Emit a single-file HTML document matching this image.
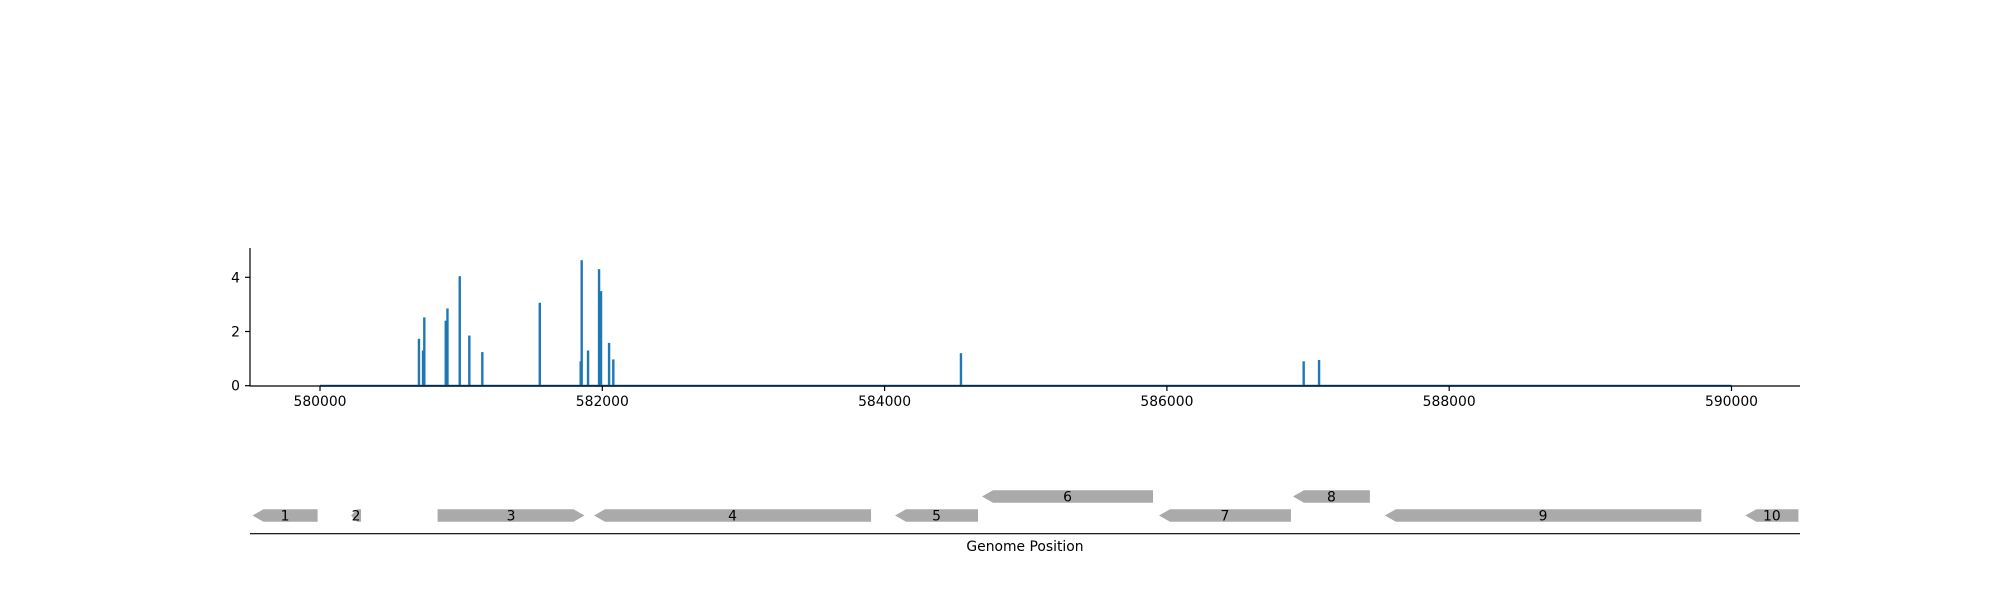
<!DOCTYPE html>
<html><head><meta charset="utf-8"><style>
html,body{margin:0;padding:0;background:#fff;width:2000px;height:600px;overflow:hidden}
svg{display:block;font-family:"DejaVu Sans","Liberation Sans",sans-serif}
</style></head><body>
<svg id="c" width="2000" height="600" viewBox="0 0 2000 600"></svg>
<script>
const positions=[580701,580730,580739,580891,580903,580990,581058,581150,581557,581847,581854,581899,581977,581991,582048,582078,584541,586969,587078];
const values=[1.73,1.3,2.52,2.40,2.85,4.04,1.85,1.24,3.06,0.9,4.63,1.3,4.3,3.49,1.58,0.97,1.2,0.9,0.95];
const xTicks=[580000,582000,584000,586000,588000,590000];
const yTicks=[0,2,4];
const geneLabels=["1","2","3","4","5","6","7","8","9","10"];
const geneStarts=[579522,580220,580833,581941,584074,584690,585944,586893,587544,590098];
const geneEnds=[579983,580291,581874,583904,584662,585902,586879,587438,589786,590474];
const geneStrands=[-1,-1,1,-1,-1,-1,-1,-1,-1,-1];
const geneRows=[0,0,0,0,0,1,0,1,0,0];

const NS="http://www.w3.org/2000/svg";
const svg=document.getElementById('c');
const X=v=>320+(v-580000)*0.14115;
const Y=v=>385.7-v*27.1;
function el(t,a,txt){const e=document.createElementNS(NS,t);for(const k in a)e.setAttribute(k,a[k]);if(txt!==undefined)e.textContent=txt;svg.appendChild(e);return e;}

let b=el('line',{x1:X(580000),x2:X(590000),y1:Y(0),y2:Y(0),stroke:'#1f77b4','stroke-width':2});


positions.forEach((p,i)=>{
  const r=el('rect',{x:X(p)-1.2,y:Y(values[i]),width:2.4,height:Y(0)-Y(values[i]),fill:'#1f77b4'});
  
  
});
let a=el('line',{x1:250,x2:250,y1:248,y2:386,stroke:'#000','stroke-width':1.2});


a=el('line',{x1:249.5,x2:1800,y1:386,y2:386,stroke:'#000','stroke-width':1.2});


yTicks.forEach(t=>{
  el('line',{x1:245,x2:250,y1:Y(t),y2:Y(t),stroke:'#000','stroke-width':1.2});
  const l=el('text',{x:240,y:Y(t)+5,'text-anchor':'end','font-size':13.9},String(t));
  
  
});
xTicks.forEach(t=>{
  el('line',{x1:X(t),x2:X(t),y1:386,y2:391,stroke:'#000','stroke-width':1.2});
  const l=el('text',{x:X(t),y:406,'text-anchor':'middle','font-size':13.9},String(t));
  
  
});
const rowY=[515.5,496.5],h=12.4,head=11;
geneLabels.forEach((g,i)=>{
  const x0=X(geneStarts[i]),x1=X(geneEnds[i]),cy=rowY[geneRows[i]];
  const hd=Math.min(head,(x1-x0)*0.6);
  let pts;
  if(geneStrands[i]>0) pts=[[x0,cy-h/2],[x1-hd,cy-h/2],[x1,cy],[x1-hd,cy+h/2],[x0,cy+h/2]];
  else pts=[[x0,cy],[x0+hd,cy-h/2],[x1,cy-h/2],[x1,cy+h/2],[x0+hd,cy+h/2]];
  const p=el('polygon',{points:pts.map(q=>q.join(',')).join(' '),fill:'#aaaaaa'});
  
  
  const t=el('text',{x:(x0+x1)/2,y:cy+5,'text-anchor':'middle','font-size':13.9},g);
  
  
});
a=el('line',{x1:250,x2:1800,y1:533.7,y2:533.7,stroke:'#000','stroke-width':1.2});


const xt=el('text',{x:1025,y:551,'text-anchor':'middle','font-size':13.9},'Genome Position');


</script>
</body></html>
